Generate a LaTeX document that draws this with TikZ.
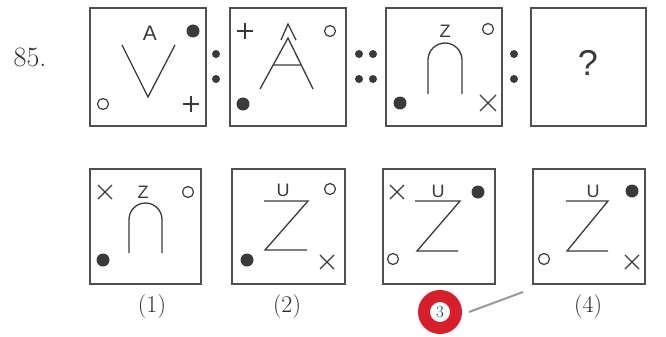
\documentclass[tikz,border=0pt]{standalone}
\usepackage{fontspec}
\setsansfont{Liberation Sans}
\definecolor{ink}{HTML}{3A3A3A}
\definecolor{frame}{HTML}{505050}
\definecolor{txt}{HTML}{2E2E2E}
\definecolor{mark}{HTML}{D81E2A}
\begin{document}
\begin{tikzpicture}[x=1pt,y=-1pt,
  panel/.style={draw=frame,line width=1.5pt,inner sep=0pt},
  toppanel/.style={panel,minimum width=116pt,minimum height=118pt},
  botpanel/.style={panel,minimum width=112pt,minimum height=115pt},
  glyph/.style={font=\sffamily\fontsize{18}{18}\selectfont,text=ink,inner sep=0pt},
  lbl/.style={font=\fontsize{24}{24}\selectfont,text=txt,inner sep=0pt},
  stroke/.style={draw=ink,line width=1.3pt},
  dot/.style={fill=ink},
  ring/.style={draw=ink,line width=1.2pt}]
\useasboundingbox (0,0) rectangle (666,337);
% number
\node[font=\fontsize{28}{28}\selectfont,text=txt,inner sep=0pt] (num) at (30,57) {85.};
% top panels
\node[toppanel] (b1) at (148,67) {};
\node[toppanel] (b2) at (288,67) {};
\node[toppanel] (b3) at (444,67) {};
\node[toppanel,minimum width=115pt] (b4) at (588.5,67) {};
% separators
\fill[dot] (216,54) circle (4pt) (216,79) circle (4pt);
\fill[dot] (359,54) circle (4pt) (373,54) circle (4pt) (359,79) circle (4pt) (373,79) circle (4pt);
\fill[dot] (514,54) circle (4pt) (514,79) circle (4pt);
% panel 1
\node[glyph,font=\sffamily\fontsize{21}{21}\selectfont] (b1a) at (150,33) {A};
\draw[stroke] (122,45) -- (148,97) -- (175,45);
\fill[dot] (193,31) circle (6.5pt);
\draw[ring] (103,104) circle (5.5pt);
\draw[stroke] (183,104) -- (199,104) (191,96) -- (191,112);
% panel 2
\draw[stroke] (237,31) -- (253,31) (245,23) -- (245,39);
\draw[ring] (330,31) circle (5.5pt);
\draw[stroke] (281,40) -- (288,24) -- (296,40);
\draw[stroke] (260,89) -- (288,38) -- (313,89) (273,65) -- (301,65);
\fill[dot] (243,104) circle (6.5pt);
% panel 3
\node[glyph] (b3z) at (445,31) {Z};
\draw[ring] (488,29) circle (5.5pt);
\draw[stroke] (428,94) -- (428,60) arc[start angle=180,end angle=0,radius=17pt] -- (462,94);
\fill[dot] (400,103) circle (6.5pt);
\draw[stroke] (480,95) -- (496,111) (480,111) -- (496,95);
% panel 4
\node[glyph,font=\sffamily\fontsize{36}{36}\selectfont] (q) at (588,63) {?};
% bottom panels
\node[botpanel,minimum width=111pt] (c1) at (145.5,226.5) {};
\node[botpanel,minimum width=113pt] (c2) at (288.5,226.5) {};
\node[botpanel] (c3) at (439,226.5) {};
\node[botpanel] (c4) at (589,226.5) {};
% option 1
\draw[stroke] (98,185) -- (112,199) (98,199) -- (112,185);
\node[glyph] (c1z) at (143,192) {Z};
\draw[ring] (188,192) circle (5.5pt);
\draw[stroke] (129,253) -- (129,219.5) arc[start angle=180,end angle=0,radius=16.5pt] -- (162,253);
\fill[dot] (103,260) circle (6.5pt);
% option 2
\node[glyph] (c2u) at (283,190) {U};
\draw[ring] (330,189) circle (5.5pt);
\draw[stroke] (264,201) -- (308,201) -- (265,250) -- (307,250);
\fill[dot] (247,260) circle (6.5pt);
\draw[stroke] (320,255) -- (334,269) (320,269) -- (334,255);
% option 3
\draw[stroke] (390,185) -- (404,199) (390,199) -- (404,185);
\node[glyph] (c3u) at (438,191) {U};
\fill[dot] (478,192) circle (6.5pt);
\draw[stroke] (415,201) -- (460,201) -- (417,251) -- (458,251);
\draw[ring] (393,259) circle (5.5pt);
% option 4
\node[glyph] (c4u) at (593,191) {U};
\fill[dot] (632,191) circle (6.5pt);
\draw[stroke] (566,201) -- (608,201) -- (567,251) -- (608,251);
\draw[ring] (544,259) circle (5.5pt);
\draw[stroke] (625,255) -- (639,269) (625,269) -- (639,255);
% labels
\node[lbl] (l1) at (152,307) {(1)};
\node[lbl] (l2) at (287,307) {(2)};
\node[lbl] (l4) at (588,307) {(4)};
% red mark
\node[circle,draw=mark,line width=12pt,minimum size=32pt,inner sep=0pt,
      font=\fontsize{17}{17}\selectfont,text=teal!60!black] (l3) at (440,312) {3};
\coordinate (tail) at (523,292);
\draw[draw=gray!80,line width=2pt] (l3.east) ++(7pt,0) coordinate (head) (head) -- (tail);
\end{tikzpicture}
\end{document}
